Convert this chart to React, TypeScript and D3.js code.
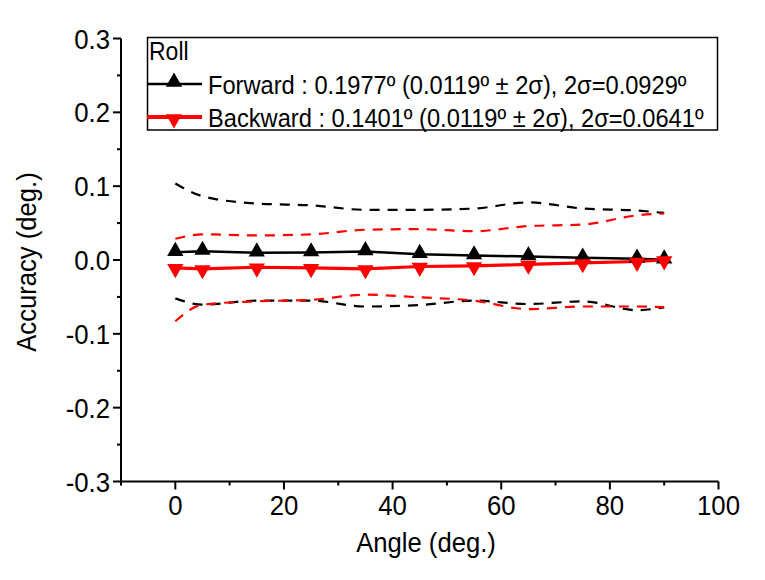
import { useRef, useEffect } from "react";
import * as d3 from "d3";

// angle positions (deg.)
const angles = [0, 5, 15, 25, 35, 45, 55, 65, 75, 85, 90];

// mean accuracy
const forwardMean = [0.0106, 0.012, 0.0098, 0.010, 0.0115, 0.0078, 0.006, 0.0048, 0.003, 0.0016, 0.0003];
const backwardMean = [-0.0106, -0.012, -0.0098, -0.0106, -0.012, -0.0088, -0.008, -0.006, -0.004, -0.002, 0.0];

// ±2σ envelopes
const forwardUpper = [0.1037, 0.0864, 0.0765, 0.074, 0.068, 0.068, 0.0697, 0.078, 0.0697, 0.067, 0.0637];
const forwardLower = [-0.052, -0.0605, -0.055, -0.055, -0.063, -0.061, -0.055, -0.0596, -0.056, -0.068, -0.064];
const backwardUpper = [0.0288, 0.0347, 0.0333, 0.0347, 0.041, 0.0418, 0.039, 0.046, 0.048, 0.0605, 0.063];
const backwardLower = [-0.083, -0.0605, -0.056, -0.054, -0.047, -0.0506, -0.055, -0.0665, -0.063, -0.063, -0.064];

const xTicks = [0, 20, 40, 60, 80, 100];
const xMinor = [-10, 10, 30, 50, 70, 90];
const yTicks = [-0.3, -0.2, -0.1, 0.0, 0.1, 0.2, 0.3];
const yMinor = [-0.25, -0.15, -0.05, 0.05, 0.15, 0.25];

const legendTitle = "Roll";
const legendLabels = [
  "Forward : 0.1977º (0.0119º ± 2σ), 2σ=0.0929º",
  "Backward : 0.1401º (0.0119º ± 2σ), 2σ=0.0641º",
];

const FONT = "'Liberation Sans', Arial, sans-serif";

export default function App() {
  const svgRef = useRef<SVGSVGElement>(null);

  useEffect(() => {
    if (!svgRef.current) return;
    const svg = d3.select(svgRef.current);
    svg.selectAll("*").remove();

    const x = d3.scaleLinear().domain([-10, 100]).range([121, 718.5]);
    const y = d3.scaleLinear().domain([-0.3, 0.3]).range([481.5, 38.5]);

    const g = svg.append("g");

    // axes lines
    g.append("line").attr("x1", x(-10)).attr("x2", x(100)).attr("y1", y(-0.3)).attr("y2", y(-0.3))
      .attr("stroke", "#000").attr("stroke-width", 2);
    g.append("line").attr("x1", x(-10)).attr("x2", x(-10)).attr("y1", y(-0.3)).attr("y2", y(0.3))
      .attr("stroke", "#000").attr("stroke-width", 2);

    // x ticks
    g.selectAll("line.xt").data(xTicks).join("line").attr("class", "xt")
      .attr("x1", (d) => x(d)).attr("x2", (d) => x(d))
      .attr("y1", y(-0.3)).attr("y2", y(-0.3) + 8)
      .attr("stroke", "#000").attr("stroke-width", 2);
    g.selectAll("line.xm").data(xMinor).join("line").attr("class", "xm")
      .attr("x1", (d) => x(d)).attr("x2", (d) => x(d))
      .attr("y1", y(-0.3)).attr("y2", y(-0.3) + 4)
      .attr("stroke", "#000").attr("stroke-width", 2);
    g.selectAll("text.xl").data(xTicks).join("text").attr("class", "xl")
      .attr("transform", (d) => `translate(${x(d)},515) scale(0.92,1)`)
      .attr("text-anchor", "middle")
      .attr("font-family", FONT).attr("font-size", 28)
      .text((d) => String(d));

    // y ticks
    g.selectAll("line.yt").data(yTicks).join("line").attr("class", "yt")
      .attr("x1", x(-10) - 8).attr("x2", x(-10))
      .attr("y1", (d) => y(d)).attr("y2", (d) => y(d))
      .attr("stroke", "#000").attr("stroke-width", 2);
    g.selectAll("line.ym").data(yMinor).join("line").attr("class", "ym")
      .attr("x1", x(-10) - 4).attr("x2", x(-10))
      .attr("y1", (d) => y(d)).attr("y2", (d) => y(d))
      .attr("stroke", "#000").attr("stroke-width", 2);
    g.selectAll("text.yl").data(yTicks).join("text").attr("class", "yl")
      .attr("transform", (d) => `translate(110,${y(d) + 10}) scale(0.92,1)`)
      .attr("text-anchor", "end")
      .attr("font-family", FONT).attr("font-size", 28)
      .text((d) => d.toFixed(1));

    // axis titles
    g.append("text").attr("transform", "translate(426,552) scale(0.95,1)").attr("text-anchor", "middle")
      .attr("font-family", FONT).attr("font-size", 27).text("Angle (deg.)");
    g.append("text").attr("transform", "translate(36,262) rotate(-90) scale(0.95,1)").attr("text-anchor", "middle")
      .attr("font-family", FONT).attr("font-size", 27).text("Accuracy (deg.)");

    const line = d3.line<[number, number]>().x((d) => x(d[0])).y((d) => y(d[1])).curve(d3.curveMonotoneX);
    const zip = (vals: number[]) => angles.map((a, i) => [a, vals[i]] as [number, number]);

    // dashed envelopes
    const dashed = [
      { v: forwardUpper, c: "#000" },
      { v: forwardLower, c: "#000" },
      { v: backwardUpper, c: "#ff0000" },
      { v: backwardLower, c: "#ff0000" },
    ];
    dashed.forEach((s) => {
      g.append("path").attr("d", line(zip(s.v)))
        .attr("fill", "none").attr("stroke", s.c).attr("stroke-width", 2.2)
        .attr("stroke-dasharray", "10,8");
    });

    const tri = d3.symbol().type(d3.symbolTriangle).size(115);

    // forward
    g.append("path").attr("d", d3.line<[number, number]>().x((d) => x(d[0])).y((d) => y(d[1]))(zip(forwardMean)))
      .attr("fill", "none").attr("stroke", "#000").attr("stroke-width", 2.5);
    // backward
    g.append("path").attr("d", d3.line<[number, number]>().x((d) => x(d[0])).y((d) => y(d[1]))(zip(backwardMean)))
      .attr("fill", "none").attr("stroke", "#ff0000").attr("stroke-width", 3.2);

    g.selectAll("path.fm").data(zip(forwardMean)).join("path").attr("class", "fm")
      .attr("d", tri).attr("transform", (d) => `translate(${x(d[0])},${y(d[1]) - 1})`)
      .attr("fill", "#000");
    g.selectAll("path.bm").data(zip(backwardMean)).join("path").attr("class", "bm")
      .attr("d", tri).attr("transform", (d) => `translate(${x(d[0])},${y(d[1]) + 1}) rotate(180)`)
      .attr("fill", "#ff0000");

    // legend
    const lg = svg.append("g");
    lg.append("rect").attr("x", 147.5).attr("y", 37.5).attr("width", 570).attr("height", 92.5)
      .attr("fill", "#fff").attr("stroke", "#000").attr("stroke-width", 1.5);
    lg.append("text").attr("transform", "translate(149,60) scale(0.92,1)").attr("font-family", FONT).attr("font-size", 25)
      .text(legendTitle);
    const legendColors = ["#000", "#ff0000"];
    const legendWidths = [2.5, 4];
    legendLabels.forEach((label, i) => {
      const ly = 84 + i * 33;
      lg.append("line").attr("x1", 147).attr("x2", 202).attr("y1", ly).attr("y2", ly)
        .attr("stroke", legendColors[i]).attr("stroke-width", legendWidths[i]);
      lg.append("path").attr("d", tri)
        .attr("transform", i === 0 ? `translate(174,${ly - 2})` : `translate(174,${ly + 2}) rotate(180)`)
        .attr("fill", legendColors[i]);
      lg.append("text").attr("transform", `translate(208,${ly + 9.5}) scale(0.91,1)`)
        .attr("font-family", FONT).attr("font-size", 26)
        .text(label);
    });
  }, []);

  return (
    <svg
      ref={svgRef}
      width={765}
      height={580}
      style={{ position: "absolute", left: 0, top: 0, background: "#fff" }}
    />
  );
}
